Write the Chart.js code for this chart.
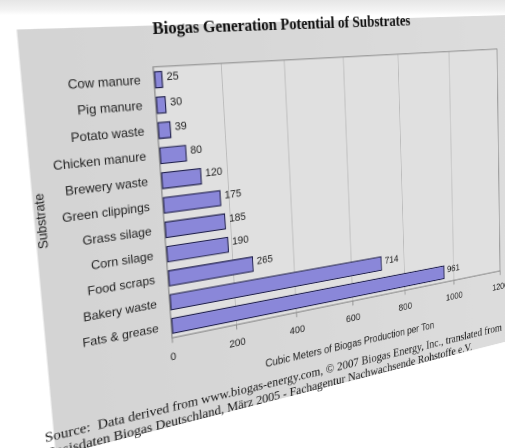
<!DOCTYPE html>
<html>
<head>
<meta charset="utf-8">
<title>Biogas Generation Potential of Substrates</title>
<script src="https://cdn.jsdelivr.net/npm/chart.js@4.4.1/dist/chart.umd.min.js"></script>
<style>
  html, body { margin: 0; padding: 0; width: 505px; height: 448px; overflow: hidden; }
  body { background: linear-gradient(to bottom, #e6e6e6 0px, #f3f3f3 10px, #ffffff 15px); position: relative; }
  #sheet { position: absolute; left: 0; top: 0; transform-origin: 0 0; }
</style>
</head>
<body>
<canvas id="sheet" width="570" height="424"></canvas>
<script>
var substrates = ["Cow manure", "Pig manure", "Potato waste", "Chicken manure", "Brewery waste",
                  "Green clippings", "Grass silage", "Corn silage", "Food scraps", "Bakery waste", "Fats & grease"];
var biogasPerTon = [25, 30, 39, 80, 120, 175, 185, 190, 265, 714, 961];
var xTicks = [0, 200, 400, 600, 800, 1000, 1200];

var sourceLines = [
  "Source:  Data derived from www.biogas-energy.com, \u00a9 2007 Biogas Energy, Inc., translated from",
  "Basisdaten Biogas Deutschland, M\u00e4rz 2005 - Fachagentur Nachwachsende Rohstoffe e.V."
];

// where the plot rectangle sits on the tilted sheet: TL, TR, BR, BL
var plotQuad = [[153, 67], [497, 49], [500, 271], [172, 338]];
// sheet edges in plot units (0..1 across the plot area)
var sheetEdge = { left: -0.29, top: -0.145, bottom: 1.34 };

// fill the gray sheet and the plot area
var sheetBackground = {
  id: 'sheetBackground',
  beforeDraw: function (chart) {
    var a = chart.chartArea, ctx = chart.ctx;
    var w = a.right - a.left, h = a.bottom - a.top;
    var x0 = Math.max(0, a.left + sheetEdge.left * w);
    var y0 = a.top + sheetEdge.top * h;
    var y1 = a.top + sheetEdge.bottom * h;
    ctx.save();
    var grad = ctx.createLinearGradient(x0, 0, chart.width, 0);
    grad.addColorStop(0, '#d4d4d4');
    grad.addColorStop(1, '#dddddd');
    ctx.fillStyle = grad;
    ctx.fillRect(x0, y0, chart.width - x0, y1 - y0);
    ctx.fillStyle = '#e0e0e0';
    ctx.fillRect(a.left, a.top, w, h);
    ctx.restore();
  },
  afterDatasetsDraw: function (chart) {
    var a = chart.chartArea, ctx = chart.ctx;
    ctx.save();
    ctx.strokeStyle = '#8a8a8a';
    ctx.lineWidth = 1;
    ctx.strokeRect(a.left, a.top, a.right - a.left, a.bottom - a.top);
    ctx.restore();
  }
};

// value printed to the right of each bar
var valueLabels = {
  id: 'valueLabels',
  afterDatasetsDraw: function (chart) {
    var ctx = chart.ctx;
    var meta = chart.getDatasetMeta(0);
    ctx.save();
    ctx.font = '11px "Liberation Sans", Arial, sans-serif';
    ctx.fillStyle = '#222';
    ctx.textBaseline = 'middle';
    ctx.textAlign = 'left';
    meta.data.forEach(function (bar, i) {
      ctx.fillText(String(chart.data.datasets[0].data[i]), bar.x + 4, bar.y - 2);
    });
    ctx.restore();
  }
};

// homography from unit square to a quad (Heckbert)
function squareToQuad(q) {
  var x0 = q[0][0], y0 = q[0][1], x1 = q[1][0], y1 = q[1][1];
  var x2 = q[2][0], y2 = q[2][1], x3 = q[3][0], y3 = q[3][1];
  var dx1 = x1 - x2, dx2 = x3 - x2, dx3 = x0 - x1 + x2 - x3;
  var dy1 = y1 - y2, dy2 = y3 - y2, dy3 = y0 - y1 + y2 - y3;
  var det = dx1 * dy2 - dx2 * dy1;
  var g = (dx3 * dy2 - dx2 * dy3) / det;
  var h = (dx1 * dy3 - dx3 * dy1) / det;
  return [x1 - x0 + g * x1, x3 - x0 + h * x3, x0,
          y1 - y0 + g * y1, y3 - y0 + h * y3, y0,
          g, h, 1];
}

// tilt the canvas so its chart area lands on plotQuad
function tiltSheet(chart) {
  var a = chart.chartArea;
  var L = a.left, T = a.top, w = a.right - a.left, h = a.bottom - a.top;
  var s = squareToQuad(plotQuad);
  var m = [
    s[0] / w, s[1] / h, s[2] - s[0] * L / w - s[1] * T / h,
    s[3] / w, s[4] / h, s[5] - s[3] * L / w - s[4] * T / h,
    s[6] / w, s[7] / h, s[8] - s[6] * L / w - s[7] * T / h
  ];
  var css = 'matrix3d(' + [m[0], m[3], 0, m[6], m[1], m[4], 0, m[7], 0, 0, 1, 0, m[2], m[5], 0, m[8]].join(',') + ')';
  chart.canvas.style.transform = css;
}

var sans = '"Liberation Sans", Arial, sans-serif';
var serif = '"Liberation Serif", "Times New Roman", serif';

var chart = new Chart(document.getElementById('sheet'), {
  type: 'bar',
  data: {
    labels: substrates,
    datasets: [{
      label: 'Cubic Meters of Biogas Production per Ton',
      data: biogasPerTon,
      backgroundColor: '#8a87d9',
      borderColor: '#20204f',
      borderWidth: 1.3,
      borderSkipped: false,
      categoryPercentage: 1,
      barPercentage: 0.68
    }]
  },
  options: {
    indexAxis: 'y',
    responsive: false,
    animation: false,
    devicePixelRatio: 2,
    layout: { padding: { left: 2, right: 10, top: 7, bottom: 10 } },
    plugins: {
      legend: { display: false },
      tooltip: { enabled: false },
      title: {
        display: true,
        text: 'Biogas Generation Potential of Substrates',
        color: '#111',
        font: { family: serif, size: 16.5, weight: 'bold' },
        padding: { top: 0, bottom: 25 }
      },
      subtitle: {
        display: true,
        position: 'bottom',
        align: 'start',
        text: sourceLines,
        color: '#1a1a1a',
        font: { family: serif, size: 14, lineHeight: 1.1 },
        padding: { top: 4, bottom: 0 }
      }
    },
    scales: {
      x: {
        min: xTicks[0],
        max: xTicks[xTicks.length - 1],
        ticks: {
          stepSize: xTicks[1] - xTicks[0],
          color: '#222',
          font: { family: sans, size: 11 },
          padding: 8,
          callback: function (v) { return String(v); }
        },
        grid: { color: '#bdbdbd', lineWidth: 1, drawTicks: true, tickLength: 5, tickColor: '#8a8a8a' },
        border: { display: true, color: '#8a8a8a' },
        title: {
          display: true,
          text: 'Cubic Meters of Biogas Production per Ton',
          color: '#222',
          font: { family: sans, size: 11.5 },
          padding: { top: 8, bottom: 4 }
        }
      },
      y: {
        ticks: { color: '#222', font: { family: sans, size: 12 }, padding: 5, autoSkip: false },
        grid: { display: false },
        border: { display: true, color: '#8a8a8a' },
        title: {
          display: true,
          text: 'Substrate',
          color: '#222',
          font: { family: sans, size: 12 },
          padding: { top: 8, bottom: 2 }
        }
      }
    }
  },
  plugins: [sheetBackground, valueLabels]
});

tiltSheet(chart);
</script>
</body>
</html>
